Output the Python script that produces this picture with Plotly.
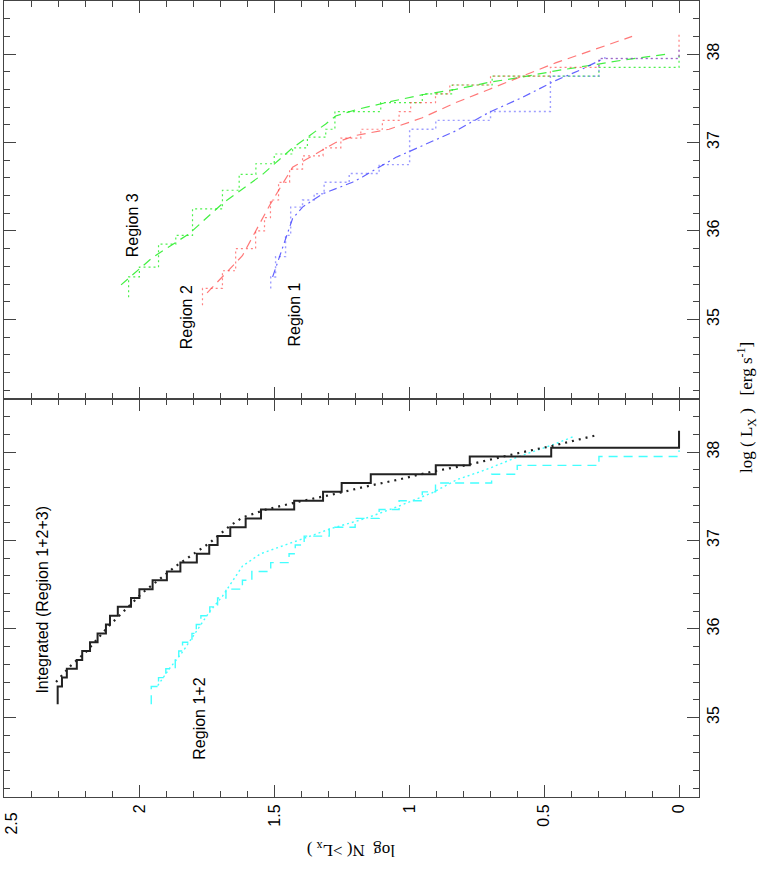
import plotly.graph_objects as go
from plotly.subplots import make_subplots

# ---------------- data (log N vs log Lx) ----------------
# Integrated (Region 1+2+3): cumulative step function
int_L_edges = [35.15, 35.35, 35.45, 35.55, 35.65, 35.75, 35.85, 35.95, 36.05, 36.15, 36.25,
               36.35, 36.45, 36.55, 36.65, 36.75, 36.85, 36.95, 37.05, 37.15, 37.25, 37.35,
               37.45, 37.55, 37.65, 37.75, 37.85, 37.95, 38.05, 38.24]
int_logN = [2.304, 2.288, 2.270, 2.233, 2.213, 2.184, 2.156, 2.125, 2.110, 2.081, 2.032,
            2.001, 1.952, 1.899, 1.849, 1.788, 1.742, 1.711, 1.664, 1.607, 1.550, 1.427,
            1.320, 1.251, 1.143, 0.902, 0.776, 0.474, 0.0]
# Integrated model
intfit_L = [35.40, 35.59, 35.74, 36.04, 36.41, 36.71, 36.97, 37.16, 37.26, 37.35, 37.44,
            37.52, 37.61, 37.69, 37.78, 37.85, 37.99, 38.07, 38.19]
intfit_logN = [2.310, 2.254, 2.199, 2.112, 1.989, 1.866, 1.742, 1.668, 1.619, 1.532, 1.409,
               1.285, 1.162, 1.038, 0.915, 0.791, 0.594, 0.470, 0.306]

# Region 1+2 step function
r12_L_edges = [35.15, 35.35, 35.45, 35.55, 35.65, 35.75, 35.85, 35.95, 36.05, 36.15, 36.25,
               36.35, 36.45, 36.55, 36.65, 36.75, 36.85, 36.95, 37.05, 37.15, 37.25, 37.35,
               37.45, 37.55, 37.65, 37.75, 37.85, 37.95, 38.02]
r12_logN = [1.957, 1.930, 1.903, 1.868, 1.855, 1.841, 1.806, 1.790, 1.773, 1.740, 1.711,
            1.680, 1.619, 1.584, 1.514, 1.446, 1.423, 1.390, 1.297, 1.201, 1.112, 1.038,
            0.952, 0.903, 0.695, 0.600, 0.297, 0.0]
# Region 1+2 model
r12fit_L = [35.36, 35.55, 35.74, 35.96, 36.19, 36.37, 36.71, 36.85, 37.01, 37.14, 37.25,
            37.39, 37.54, 37.69, 37.80, 37.95, 38.08, 38.18]
r12fit_logN = [1.933, 1.890, 1.841, 1.791, 1.742, 1.693, 1.619, 1.552, 1.409, 1.285, 1.162,
               1.038, 0.915, 0.822, 0.717, 0.594, 0.470, 0.387]

# Region 3 (green)
r3_L_edges = [35.25, 35.48, 35.59, 35.85, 35.95, 36.25, 36.46, 36.64, 36.76, 36.87, 36.94,
              37.06, 37.15, 37.35, 37.45, 37.55, 37.65, 37.75, 37.85, 38.0]
r3_logN = [2.041, 2.001, 1.930, 1.866, 1.804, 1.693, 1.631, 1.569, 1.501, 1.433, 1.378,
           1.310, 1.276, 1.106, 0.952, 0.841, 0.693, 0.297, 0.0]
r3fit_L = [35.39, 35.70, 35.97, 36.31, 36.64, 36.94, 37.21, 37.30, 37.37, 37.46, 37.54,
           37.60, 37.68, 37.74, 37.81, 37.87, 37.93, 38.0]
r3fit_logN = [2.069, 1.952, 1.816, 1.693, 1.544, 1.433, 1.310, 1.273, 1.199, 1.075, 0.952,
              0.829, 0.705, 0.581, 0.458, 0.334, 0.211, 0.044]

# Region 2 (red)
r2_L_edges = [35.16, 35.35, 35.55, 35.80, 36.00, 36.15, 36.35, 36.55, 36.70, 36.85, 36.94,
              37.05, 37.15, 37.25, 37.35, 37.45, 37.55, 37.65, 37.75, 37.85, 37.95, 38.22]
r2_logN = [1.767, 1.693, 1.644, 1.570, 1.537, 1.515, 1.485, 1.444, 1.396, 1.320, 1.254,
           1.180, 1.100, 1.038, 0.995, 0.903, 0.850, 0.699, 0.477, 0.297, 0.0]
r2fit_L = [35.30, 35.48, 35.72, 36.28, 36.72, 36.85, 37.00, 37.08, 37.15, 37.28, 37.45,
           37.60, 37.75, 37.90, 38.03, 38.20]
r2fit_logN = [1.750, 1.693, 1.619, 1.520, 1.433, 1.359, 1.273, 1.199, 1.075, 0.952, 0.829,
              0.705, 0.581, 0.458, 0.334, 0.174]

# Region 1 (blue)
r1_L_edges = [35.35, 35.48, 35.71, 35.95, 36.27, 36.35, 36.42, 36.55, 36.65, 36.75, 37.15,
              37.25, 37.35, 37.75, 37.95, 38.05]
r1_logN = [1.514, 1.496, 1.459, 1.440, 1.396, 1.353, 1.316, 1.223, 1.112, 0.999, 0.902,
           0.699, 0.477, 0.297, 0.0]
r1fit_L = [35.48, 35.82, 36.14, 36.27, 36.42, 36.55, 36.61, 36.83, 36.96, 37.13, 37.34,
           37.51, 37.70, 37.83, 37.96]
r1fit_logN = [1.507, 1.470, 1.433, 1.396, 1.322, 1.211, 1.174, 1.051, 0.952, 0.829, 0.705,
              0.581, 0.458, 0.359, 0.273]

x_ticks = [2.5, 2, 1.5, 1, 0.5, 0]
x_ticklabels = ["2.5", "2", "1.5", "1", "0.5", "0"]
y_ticks = [35, 36, 37, 38]
y_ticklabels = ["35", "36", "37", "38"]


def step_xy(edges, logn):
    xs = list(logn) + [logn[-1]]
    ys = list(edges)
    return xs, ys


fig = make_subplots(rows=2, cols=1, vertical_spacing=0)

TXT = "black"
SANS = "Liberation Sans, Arial, Helvetica, sans-serif"
SERIF = "Liberation Serif, Times New Roman, serif"


def add_step(edges, logn, color, dash, width, row, opacity=1.0):
    xs, ys = step_xy(edges, logn)
    fig.add_trace(go.Scatter(x=xs, y=ys, mode="lines", line_shape="vh",
                             line=dict(color=color, width=width, dash=dash),
                             opacity=opacity, showlegend=False, hoverinfo="skip"),
                  row=row, col=1)


def add_line(L, logn, color, dash, width, row, opacity=1.0):
    fig.add_trace(go.Scatter(x=logn, y=L, mode="lines",
                             line=dict(color=color, width=width, dash=dash),
                             opacity=opacity, showlegend=False, hoverinfo="skip"),
                  row=row, col=1)


# top panel: regions 1, 2, 3
add_step(r3_L_edges, r3_logN, "#22ee22", "2px,3px", 1.2, 1, 0.8)
add_line(r3fit_L, r3fit_logN, "#22ee22", "9px,6px", 1.2, 1, 0.85)
add_step(r2_L_edges, r2_logN, "#ff4040", "2px,3px", 1.2, 1, 0.65)
add_line(r2fit_L, r2fit_logN, "#ff4040", "9px,6px", 1.2, 1, 0.7)
add_step(r1_L_edges, r1_logN, "#5050ff", "2px,3px", 1.4, 1, 0.55)
add_line(r1fit_L, r1fit_logN, "#3030ff", "8px,4px,2px,4px", 1.2, 1, 0.75)

# bottom panel
add_step(r12_L_edges, r12_logN, "#44ffff", "9px,6px", 1.4, 2)
add_line(r12fit_L, r12fit_logN, "#44ffff", "2px,3px", 1.4, 2)
add_step(int_L_edges, int_logN, "#222222", "solid", 2, 2)
add_line(intfit_L, intfit_logN, "#222222", "2px,5px", 2.2, 2)

# the "2.5" label sits at the frame edge; it is drawn as a text below (see annotations)
x_ticklabels_shown = ["" if t == "2.5" else t for t in x_ticklabels]

axcol = "#444444"
for r in (1, 2):
    fig.update_xaxes(range=[2.503, -0.074], tickvals=x_ticks, ticktext=x_ticklabels_shown,
                     ticks="inside", ticklen=12, tickwidth=1, tickcolor=axcol,
                     showline=True, linecolor=axcol, linewidth=1, mirror="ticks",
                     showgrid=False, zeroline=False, tickangle=-90, automargin=False,
                     tickfont=dict(family=SANS, size=16, color=TXT),
                     minor=dict(dtick=0.1, tick0=0, ticks="inside", ticklen=6,
                                tickcolor=axcol, showgrid=False),
                     showticklabels=(r == 2), row=r, col=1)
    fig.update_yaxes(range=[34.1, 38.6], tickvals=y_ticks, ticktext=y_ticklabels,
                     side="right", ticks="inside", ticklen=12, tickwidth=1, tickcolor=axcol,
                     showline=True, linecolor=axcol, linewidth=1, mirror="ticks",
                     showgrid=False, zeroline=False, tickangle=-90, automargin=False,
                     tickfont=dict(family=SANS, size=16, color=TXT),
                     minor=dict(dtick=0.2, tick0=34, ticks="inside", ticklen=6,
                                tickcolor=axcol, showgrid=False),
                     row=r, col=1)

ann = []
def txt(x, y, s, xref, yref, angle, size=16, family=SANS, xanchor="center"):
    ann.append(dict(x=x, y=y, xref=xref, yref=yref, text=s, showarrow=False,
                    textangle=angle, font=dict(family=family, size=size, color=TXT),
                    xanchor=xanchor, yanchor="middle"))

# first tick label at the frame edge
txt(0.0105, -0.033, x_ticklabels[0], "paper", "paper", -90)

# panel labels (data coordinates)
txt(2.359, 36.33, "Integrated (Region 1+2+3)", "x2", "y2", -90)
txt(1.778, 34.98, "Region 1+2", "x2", "y2", -90)
txt(2.026, 36.06, "Region 3", "x", "y", -90)
txt(1.826, 35.02, "Region 2", "x", "y", -90)
txt(1.426, 35.06, "Region 1", "x", "y", -90)

# axis titles
txt(1.069, 0.49, "log ( L<sub>X</sub> )   [erg s<sup>-1</sup>]", "paper", "paper", -90,
    size=17, family=SERIF)
txt(0.5, -0.066, "log  N( >L<sub>x</sub> )", "paper", "paper", 180, size=17, family=SERIF)

fig.update_layout(width=764, height=872, margin=dict(l=4, r=65, t=1, b=75),
                  paper_bgcolor="white", plot_bgcolor="white", annotations=ann)

fig.write_html("out.html", config={"displayModeBar": False},
               post_script="document.body.style.margin='0';")
